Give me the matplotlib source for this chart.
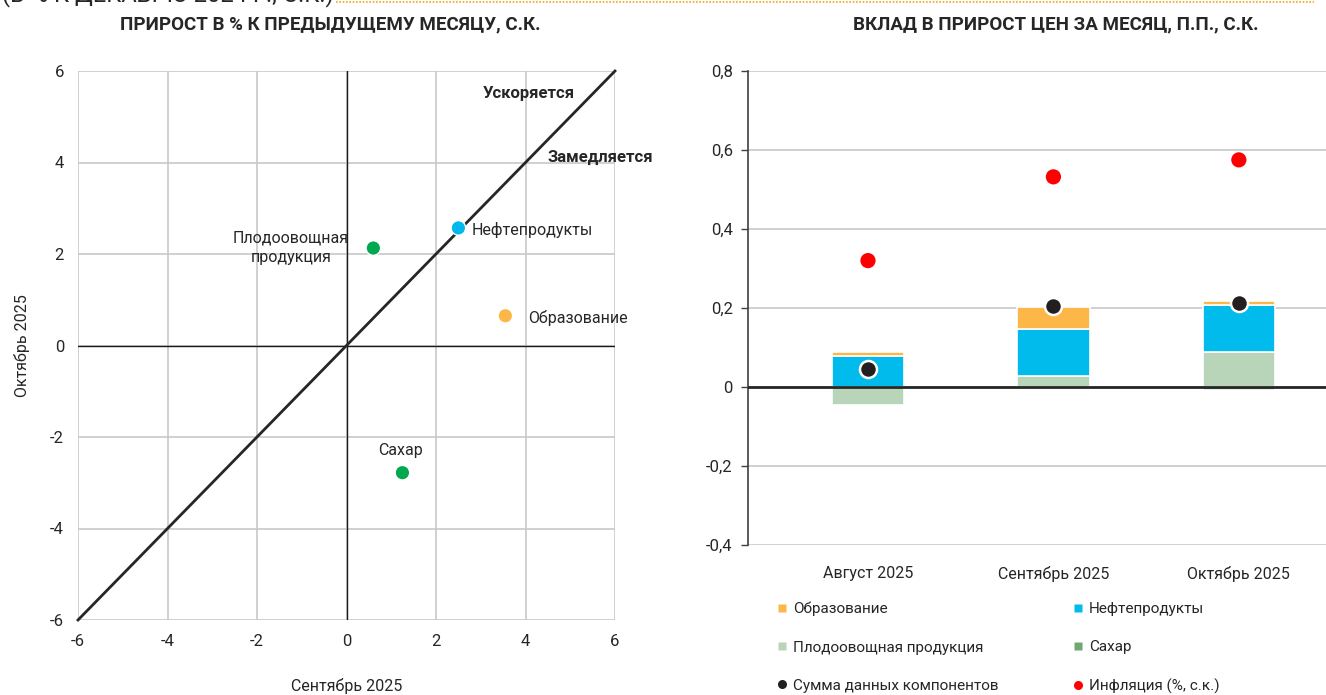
import matplotlib
matplotlib.use("Agg")
import matplotlib.pyplot as plt
from matplotlib.lines import Line2D
from matplotlib import font_manager as fm
import numpy as np

avail = {f.name for f in fm.fontManager.ttflist}
FONT = "Roboto" if "Roboto" in avail else "DejaVu Sans"
NARROW = "Liberation Sans Narrow" if "Liberation Sans Narrow" in avail else FONT
plt.rcParams['font.family'] = [FONT, 'DejaVu Sans']

# ---------------- data ----------------
# left scatter: x = September 2025 m/m % s.a., y = October 2025 m/m % s.a.
sc_names = ["Плодоовощная\nпродукция", "Нефтепродукты", "Образование", "Сахар"]
sc_x = [0.6, 2.5, 3.55, 1.25]
sc_y = [2.13, 2.57, 0.65, -2.78]
sc_colors = ["#00a850", "#00b9ec", "#fdb748", "#00a850"]
diag = [-6, 6]
left_ticks = [-6, -4, -2, 0, 2, 4, 6]

# right stacked bars: contribution, p.p., s.a.
months = ["Август 2025", "Сентябрь 2025", "Октябрь 2025"]
sugar = [0.0, 0.0, -0.007]
fruitveg = [-0.045, 0.027, 0.088]
oil = [0.078, 0.12, 0.12]
educ = [0.010, 0.056, 0.010]
total = [0.045, 0.205, 0.213]
inflation = [0.32, 0.532, 0.575]
right_ticks = [-0.4, -0.2, 0, 0.2, 0.4, 0.6, 0.8]

C_EDU = "#fdb748"
C_OIL = "#00bbec"
C_FV = "#b8d5b9"
C_SUG = "#6fa872"
C_TOT = "#231f20"
C_INF = "#ff0000"
GRID = "#c8c8c8"
TXT = "#262626"

W, H = 1326, 695
fig = plt.figure(figsize=(W / 100, H / 100), dpi=100)

def fx(px):
    return px / W

def fy(py):
    return 1 - py / H

# top header (clipped at the top edge, as in the source)
fig.text(fx(2), fy(1), "(В % К ДЕКАБРЮ 2024 Г., С.К.)", fontsize=17, color=TXT,
         ha="left", va="baseline", family=[NARROW, 'DejaVu Sans'])
fig.add_artist(Line2D([fx(336), fx(1314)], [fy(2), fy(2)], color="#f5a623",
                      lw=1.2, ls=(0, (1, 1))))

# titles
fig.text(fx(330), fy(24), "ПРИРОСТ В % К ПРЕДЫДУЩЕМУ МЕСЯЦУ, С.К.", fontsize=13.5,
         fontweight="bold", color=TXT, ha="center", va="center")
fig.text(fx(1056), fy(24), "ВКЛАД В ПРИРОСТ ЦЕН ЗА МЕСЯЦ, П.П., С.К.", fontsize=13.5,
         fontweight="bold", color=TXT, ha="center", va="center")

# ---------------- left chart ----------------
ax1 = fig.add_axes([fx(78), fy(620), fx(615) - fx(78), fy(71) - fy(620)])
ax1.set_xlim(-6, 6)
ax1.set_ylim(-6, 6)
ax1.set_xticks(left_ticks)
ax1.set_yticks(left_ticks)
ax1.set_xticklabels([str(t) for t in left_ticks])
ax1.set_yticklabels([str(t) for t in left_ticks])
for s in ax1.spines.values():
    s.set_visible(False)
ax1.grid(True, color=GRID, lw=1.2)
ax1.set_axisbelow(True)
ax1.tick_params(length=0, labelsize=12, colors=TXT, pad=10)
ax1.axhline(0, color="#1a1a1a", lw=1.0, zorder=2)
ax1.axvline(0, color="#1a1a1a", lw=1.0, zorder=2)
ax1.plot(diag, diag, color="#262626", lw=2, zorder=3, clip_on=False)
ax1.scatter(sc_x, sc_y, s=110, c=sc_colors, edgecolors="white", linewidths=1, zorder=4)
ax1.set_xlabel("Сентябрь 2025", fontsize=11.5, color=TXT, va="center")
ax1.xaxis.set_label_coords(0.5, -(686 - 620) / 549)
ax1.set_ylabel("Октябрь 2025", fontsize=11.5, color=TXT, va="center")
ax1.yaxis.set_label_coords(-(78 - 22) / 537, 0.5)

ax1.text(sc_x[0] - 0.55, sc_y[0], sc_names[0], fontsize=11.5, color=TXT, ha="right",
         va="center", multialignment="center", linespacing=1.4)
ax1.text(sc_x[1] + 0.3, sc_y[1] - 0.05, sc_names[1], fontsize=11.5, color=TXT, ha="left", va="center")
ax1.text(sc_x[2] + 0.5, sc_y[2] - 0.05, sc_names[2], fontsize=11.5, color=TXT, ha="left", va="center")
ax1.text(sc_x[3] - 0.05, sc_y[3] + 0.48, sc_names[3], fontsize=11.5, color=TXT, ha="center", va="center")
ax1.text(5.1, 5.5, "Ускоряется", fontsize=12, fontweight="bold", color=TXT, ha="right", va="center")
ax1.text(6.85, 4.1, "Замедляется", fontsize=12, fontweight="bold", color=TXT, ha="right", va="center")

# ---------------- right chart ----------------
ax2 = fig.add_axes([fx(748), fy(545), fx(1326) - fx(748), fy(71) - fy(545)])
x = np.arange(len(months))
bw = 0.39
ax2.set_xlim(-0.647, 2.47)
ax2.set_ylim(-0.4, 0.8)
ax2.set_yticks(right_ticks)
ax2.set_yticklabels([("0" if abs(t) < 1e-9 else f"{t:.1f}".replace(".", ",")) for t in right_ticks])
ax2.yaxis.grid(True, color=GRID, lw=1.2)
ax2.set_axisbelow(True)
for k in ["top", "right", "bottom"]:
    ax2.spines[k].set_visible(False)
ax2.spines["left"].set_color("#404040")
ax2.spines["left"].set_linewidth(1.2)
ax2.tick_params(axis="y", length=5, width=1, colors="#404040", labelsize=12, labelcolor=TXT, pad=6)
ax2.tick_params(axis="x", length=0, labelsize=11.5, labelcolor=TXT, pad=15)
ax2.set_xticks(x)
ax2.set_xticklabels(months)

sug = np.array(sugar)
fv = np.array(fruitveg)
oi = np.array(oil)
ed = np.array(educ)
pos_base = np.zeros(len(x))
neg_base = np.zeros(len(x))
for vals, col in [(sug, C_SUG), (fv, C_FV), (oi, C_OIL), (ed, C_EDU)]:
    bottoms = np.where(vals >= 0, pos_base, neg_base)
    ax2.bar(x, vals, bw, bottom=bottoms, color=col, edgecolor="white", linewidth=1.2, zorder=2)
    pos_base = pos_base + np.where(vals >= 0, vals, 0)
    neg_base = neg_base + np.where(vals < 0, vals, 0)

ax2.axhline(0, color="#262626", lw=2, zorder=3)
ax2.scatter(x, total, s=150, c=C_TOT, edgecolors="white", linewidths=1.8, zorder=5)
ax2.scatter(x, inflation, s=120, c=C_INF, edgecolors="none", zorder=5)

# legend
def sq(c):
    return Line2D([], [], marker="s", ls="none", markersize=6, markerfacecolor=c, markeredgecolor="none")

def dot(c):
    return Line2D([], [], marker="o", ls="none", markersize=6.5, markerfacecolor=c, markeredgecolor="none")

leg_kw = dict(frameon=False, fontsize=11, labelspacing=1.58, handlelength=0.6,
              handletextpad=0.45, borderpad=0, borderaxespad=0, labelcolor=TXT)
l1 = fig.legend([sq(C_EDU), sq(C_FV), dot(C_TOT)],
                ["Образование", "Плодоовощная продукция", "Сумма данных компонентов"],
                loc="upper left", bbox_to_anchor=(fx(777), fy(602)), **leg_kw)
l2 = fig.legend([sq(C_OIL), sq(C_SUG), dot(C_INF)],
                ["Нефтепродукты", "Сахар", "Инфляция (%, с.к.)"],
                loc="upper left", bbox_to_anchor=(fx(1073), fy(602)), **leg_kw)

fig.savefig("out.png", dpi=100)
